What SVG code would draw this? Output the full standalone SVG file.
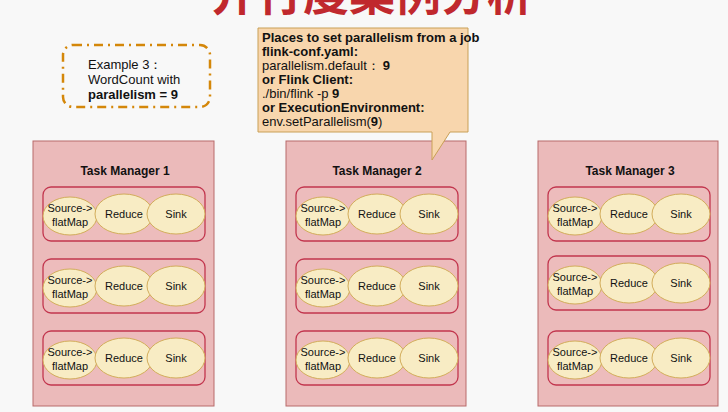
<svg xmlns="http://www.w3.org/2000/svg" width="728" height="412" viewBox="0 0 728 412">
<style>
text{font-family:"Liberation Sans",Arial,sans-serif;fill:#111;}
.t{font-size:13px;}
.b{font-weight:bold;}
.tm{fill:#ebbaba;stroke:#b86a6a;stroke-width:1;}
.slot{fill:#edbcbc;stroke:#c2364e;stroke-width:1.3;}
.op{fill:#f8ecc4;stroke:#d2ac5a;stroke-width:1;}
.ot{font-size:11px;text-anchor:middle;}
.th{font-size:12px;font-weight:bold;text-anchor:middle;}
</style>
<defs>
<g id="slot">
<rect class="slot" x="0" y="0" width="162" height="54" rx="8"/>
<ellipse class="op" cx="27" cy="29" rx="27" ry="19"/>
<ellipse class="op" cx="81" cy="27" rx="29" ry="20"/>
<ellipse class="op" cx="133" cy="27" rx="29" ry="20"/>
<text class="ot" x="27" y="25">Source-&gt;</text>
<text class="ot" x="27" y="39">flatMap</text>
<text class="ot" x="81" y="31">Reduce</text>
<text class="ot" x="133" y="31">Sink</text>
</g>
</defs>
<rect width="728" height="412" fill="#f8f8f8"/>
<text x="372" y="10" text-anchor="middle" style="font-family:'Noto Sans CJK SC',sans-serif;font-size:46px;font-weight:bold;fill:#c0282d">并行度案例分析</text>

<g id="example">
<rect x="63" y="45" width="147" height="62" rx="10" fill="none" stroke="#d4870a" stroke-width="2.5" stroke-dasharray="9,5,2,5"/>
<text class="t" x="88" y="69">Example 3：</text>
<text class="t" x="88" y="84">WordCount with</text>
<text class="t b" x="88" y="99">parallelism = 9</text>
</g>

<g id="tm1">
<rect class="tm" x="33" y="141" width="181" height="265"/>
<text class="th" x="125" y="175">Task Manager 1</text>
<use href="#slot" x="43" y="187"/>
<use href="#slot" x="43" y="259"/>
<use href="#slot" x="43" y="331"/>
</g>
<g id="tm2">
<rect class="tm" x="286" y="141" width="180" height="265"/>
<text class="th" x="377" y="175">Task Manager 2</text>
<use href="#slot" x="296" y="187"/>
<use href="#slot" x="296" y="259"/>
<use href="#slot" x="296" y="331"/>
</g>
<g id="tm3">
<rect class="tm" x="538" y="141" width="180" height="265"/>
<text class="th" x="630" y="175">Task Manager 3</text>
<use href="#slot" x="548" y="187"/>
<use href="#slot" x="548" y="256"/>
<use href="#slot" x="548" y="331"/>
</g>

<g id="callout">
<path d="M258,28 H468 V132 H450 L432,160 V132 H258 Z" fill="#f8d6ad" stroke="#c9a056" stroke-width="1"/>
<text class="t b" x="262" y="42">Places to set parallelism from a job</text>
<text class="t b" x="262" y="56">flink-conf.yaml:</text>
<text class="t" x="262" y="70">parallelism.default：<tspan class="b" dx="3">9</tspan></text>
<text class="t b" x="262" y="84">or Flink Client:</text>
<text class="t" x="262" y="98">./bin/flink -p <tspan class="b">9</tspan></text>
<text class="t b" x="262" y="112">or ExecutionEnvironment:</text>
<text class="t" x="262" y="126">env.setParallelism(<tspan class="b">9</tspan>)</text>
</g>
</svg>
